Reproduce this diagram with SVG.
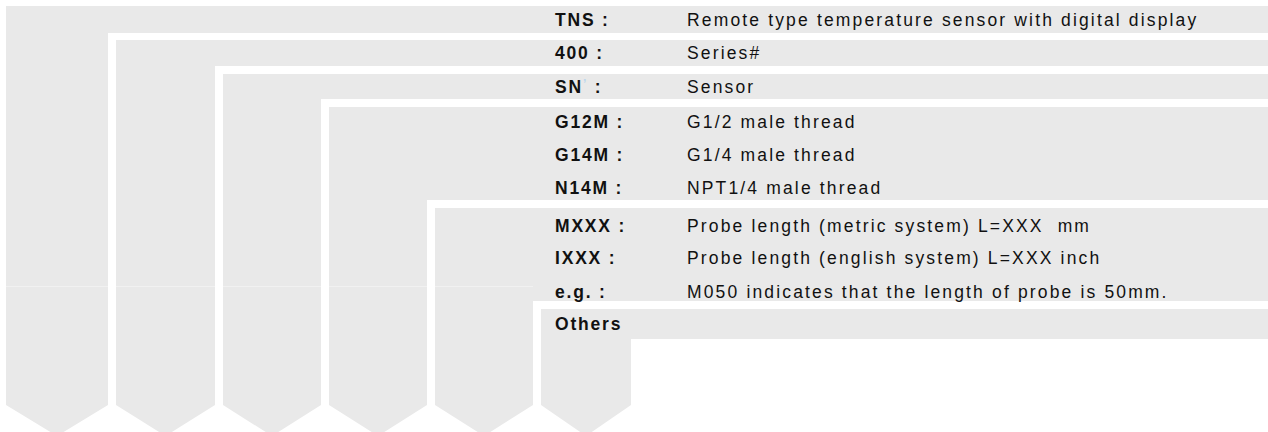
<svg xmlns="http://www.w3.org/2000/svg" width="1268" height="432" viewBox="0 0 1268 432">
<style>
.band{fill:#e9e9e9;}
.seam{stroke:#f1f1f1;stroke-width:1;}
text{font-family:"Liberation Sans",Arial,sans-serif;font-size:17.5px;fill:#111;letter-spacing:2.15px;white-space:pre;}
.k{font-weight:bold;letter-spacing:1.8px;}
.tick{fill:#bcd6ec;font-size:12px;}
</style>
<rect width="1268" height="432" fill="#ffffff"/>
<g id="level1">
<path class="band" d="M6,6 H1268 V33 H108 V405 L57,436 L6,405 Z"/>
</g>
<g id="level2">
<path class="band" d="M116,40 H1268 V66 H215 V405 L165.5,436 L116,405 Z"/>
</g>
<g id="level3">
<path class="band" d="M223,74 H1268 V99 H321 V405 L272,436 L223,405 Z"/>
</g>
<g id="level4">
<path class="band" d="M329,107 H1268 V200 H427 V405 L378,436 L329,405 Z"/>
</g>
<g id="level5">
<path class="band" d="M435,208 H1268 V301 H533 V405 L484,436 L435,405 Z"/>
</g>
<g id="level6">
<path class="band" d="M541,309 H1268 V339 H631 V405 L586,436 L541,405 Z"/>
</g>
<g id="seams">
<line class="seam" x1="6" y1="286.5" x2="108" y2="286.5"/>
<line class="seam" x1="116" y1="286.5" x2="215" y2="286.5"/>
<line class="seam" x1="223" y1="286.5" x2="321" y2="286.5"/>
<line class="seam" x1="329" y1="286.5" x2="427" y2="286.5"/>
<line class="seam" x1="435" y1="286.5" x2="533" y2="286.5"/>
</g>
<g id="labels">
<g id="row-tns"><text class="k" x="555" y="26">TNS :</text><text x="687" y="26">Remote type temperature sensor with digital display</text></g>
<g id="row-400"><text class="k" x="555" y="59">400 :</text><text x="687" y="59">Series#</text></g>
<g id="row-sn"><text class="k" x="555" y="93">SN<tspan class="tick" dy="-5">’</tspan><tspan dy="5"> :</tspan></text><text x="687" y="93">Sensor</text></g>
<g id="row-g12m"><text class="k" x="555" y="128">G12M :</text><text x="687" y="128">G1/2 male thread</text></g>
<g id="row-g14m"><text class="k" x="555" y="161">G14M :</text><text x="687" y="161">G1/4 male thread</text></g>
<g id="row-n14m"><text class="k" x="555" y="194">N14M :</text><text x="687" y="194">NPT1/4 male thread</text></g>
<g id="row-mxxx"><text class="k" x="555" y="232">MXXX :</text><text x="687" y="232">Probe length (metric system) L=XXX  mm</text></g>
<g id="row-ixxx"><text class="k" x="555" y="264">IXXX :</text><text x="687" y="264">Probe length (english system) L=XXX inch</text></g>
<g id="row-eg"><text class="k" x="555" y="298">e.g. :</text><text x="687" y="298">M050 indicates that the length of probe is 50mm.</text></g>
<g id="row-others"><text class="k" x="555" y="330">Others</text></g>
</g>
</svg>
